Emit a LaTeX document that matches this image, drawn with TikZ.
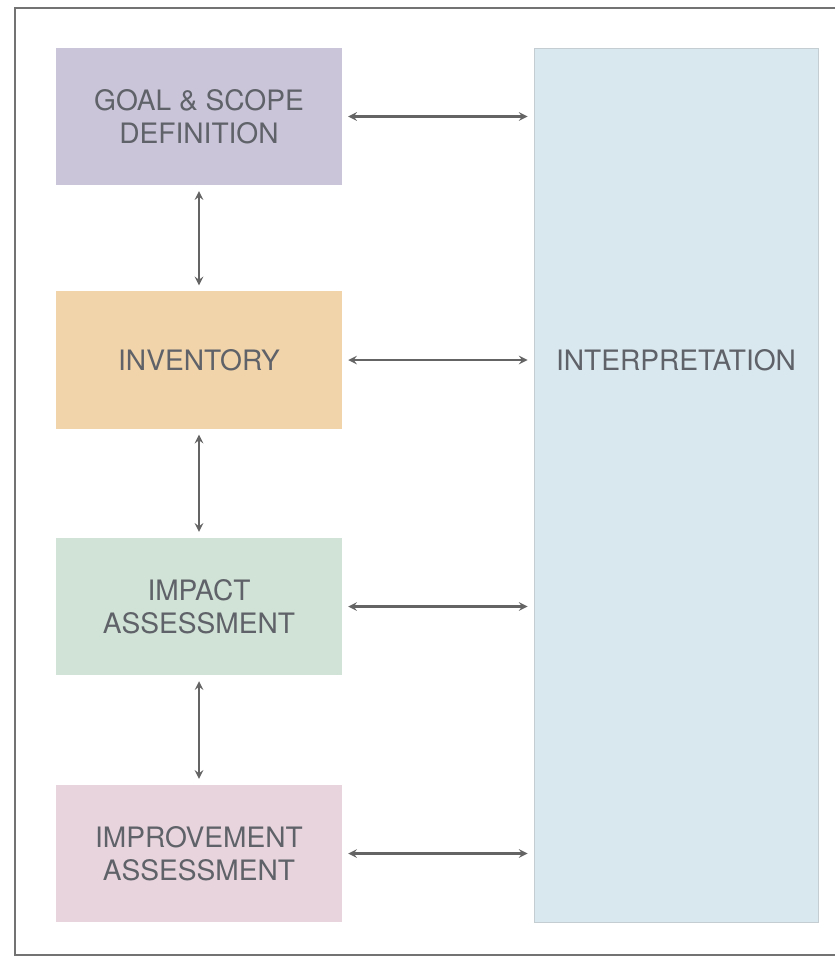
\documentclass[tikz,border=0pt]{standalone}
\usepackage{fontspec}
\setmainfont{TeX Gyre Heros}
\usepackage{tikz}

\definecolor{goalc}{RGB}{203,197,218}
\definecolor{invc}{RGB}{241,212,170}
\definecolor{impc}{RGB}{208,227,214}
\definecolor{imprc}{RGB}{232,212,221}
\definecolor{interc}{RGB}{217,232,238}
\definecolor{interline}{RGB}{196,206,210}
\definecolor{txtc}{RGB}{95,98,104}
\definecolor{arrc}{RGB}{100,100,100}
\definecolor{framec}{RGB}{115,115,115}

\begin{document}
\begin{tikzpicture}[x=0.03cm,y=-0.03cm,
  stage/.style={inner sep=0pt,minimum width=8.58cm,minimum height=4.11cm,
    align=center,text=txtc,font=\fontsize{24}{28}\selectfont},
  link/.style={<->,>=stealth,draw=arrc,line width=2.2pt,
    shorten <=0.18cm,shorten >=0.18cm}]

\useasboundingbox (0,0) rectangle (835,957);

% frame, open on the right
\draw [framec,line width=1.8pt] (835,8) -- (15,8) -- (15,955) -- (835,955);

% interpretation column
\node [draw=interline,fill=interc,line width=0.8pt,inner sep=0pt,
  minimum width=8.52cm,minimum height=26.22cm] (interp) at (676,485) {};
\node [text=txtc,font=\fontsize{24}{28}\selectfont] (interptext) at (676,360) {INTERPRETATION};

% the four phases
\node [stage,fill=goalc] (goal) at (199,116.5) {GOAL \& SCOPE\\DEFINITION};
\node [stage,fill=invc]  (inv)  at (199,360)   {INVENTORY};
\node [stage,fill=impc]  (imp)  at (199,606.5) {IMPACT\\ASSESSMENT};
\node [stage,fill=imprc] (impr) at (199,853.5) {IMPROVEMENT\\ASSESSMENT};

\draw [link] (goal) -- (inv);
\draw [link] (inv) -- (imp);
\draw [link] (imp) -- (impr);

\draw [link] (goal.east) -- (goal.east -| interp.west);
\draw [link] (inv.east)  -- (inv.east -| interp.west);
\draw [link] (imp.east)  -- (imp.east -| interp.west);
\draw [link] (impr.east) -- (impr.east -| interp.west);

\end{tikzpicture}
\end{document}
